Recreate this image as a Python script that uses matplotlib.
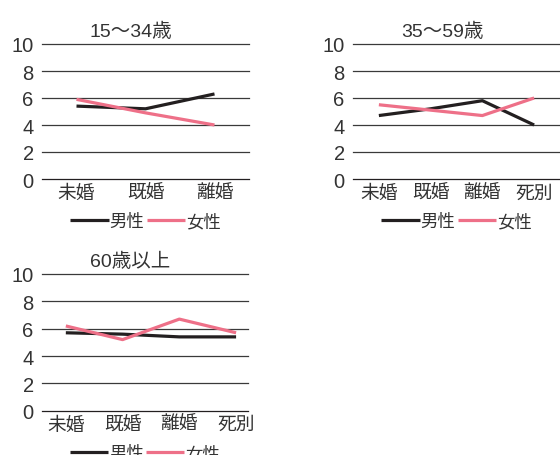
import numpy as np
import matplotlib
matplotlib.use('Agg')
import matplotlib.pyplot as plt

plt.rcParams['font.family'] = ['Liberation Sans', 'Noto Sans CJK JP', 'DejaVu Sans']

# data
titles = ['15～34歳', '35～59歳', '60歳以上']
cats_young = ['未婚', '既婚', '離婚']
cats_all = ['未婚', '既婚', '離婚', '死別']

male_young = [5.4, 5.2, 6.3]
female_young = [5.9, 4.9, 4.0]
male_mid = [4.7, 5.2, 5.8, 4.0]
female_mid = [5.5, 5.1, 4.7, 6.0]
male_old = [5.7, 5.6, 5.4, 5.4]
female_old = [6.2, 5.2, 6.7, 5.7]

yticks = [0, 2, 4, 6, 8, 10]
black = '#231f20'
pink = '#ee7088'
txt = '#333333'

fig = plt.figure(figsize=(5.6, 4.56), dpi=100)

panels = [
    # rect, title, cats, male, female, xlim
    ([42/560, 1-180/456, 207/560, 135/456], titles[0], cats_young, male_young, female_young, (-0.5, 2.5)),
    ([353/560, 1-180/456, 207/560, 135/456], titles[1], cats_all, male_mid, female_mid, (-0.5, 3.5)),
    ([42/560, 1-411.7/456, 206/560, 136.7/456], titles[2], cats_all, male_old, female_old, (-0.42, 3.21)),
]

for rect, title, cats, m, f, xl in panels:
    ax = fig.add_axes(rect)
    x = np.arange(len(cats))
    lm, = ax.plot(x, m, color=black, lw=2.3, solid_capstyle='butt', zorder=3)
    lf, = ax.plot(x, f, color=pink, lw=2.3, solid_capstyle='butt', zorder=3)
    ax.set_xlim(*xl)
    ax.set_ylim(0, 10)
    ax.set_yticks(yticks)
    ax.set_yticklabels([str(t) for t in yticks], fontsize=14.5, color=txt)
    ax.set_xticks(x)
    ax.set_xticklabels(cats, fontsize=13.5, color=txt)
    ax.tick_params(length=0, pad=6)
    ax.tick_params(axis='x', pad=4)
    for s in ax.spines.values():
        s.set_visible(False)
    for t in yticks:
        ax.axhline(t, color='#3a3a3a' if t else black, lw=0.9, zorder=1, clip_on=False)
    ax.set_title(title, fontsize=14, color=txt, pad=6, x=0.43)
    ax.legend([lm, lf], ['男性', '女性'], loc='upper center', bbox_to_anchor=(0.5, -0.185),
              ncol=2, frameon=False, fontsize=12.5, handlelength=2.2, handletextpad=0.05,
              columnspacing=0.15, borderpad=0, labelcolor=txt)

fig.savefig('out.png', dpi=100)
